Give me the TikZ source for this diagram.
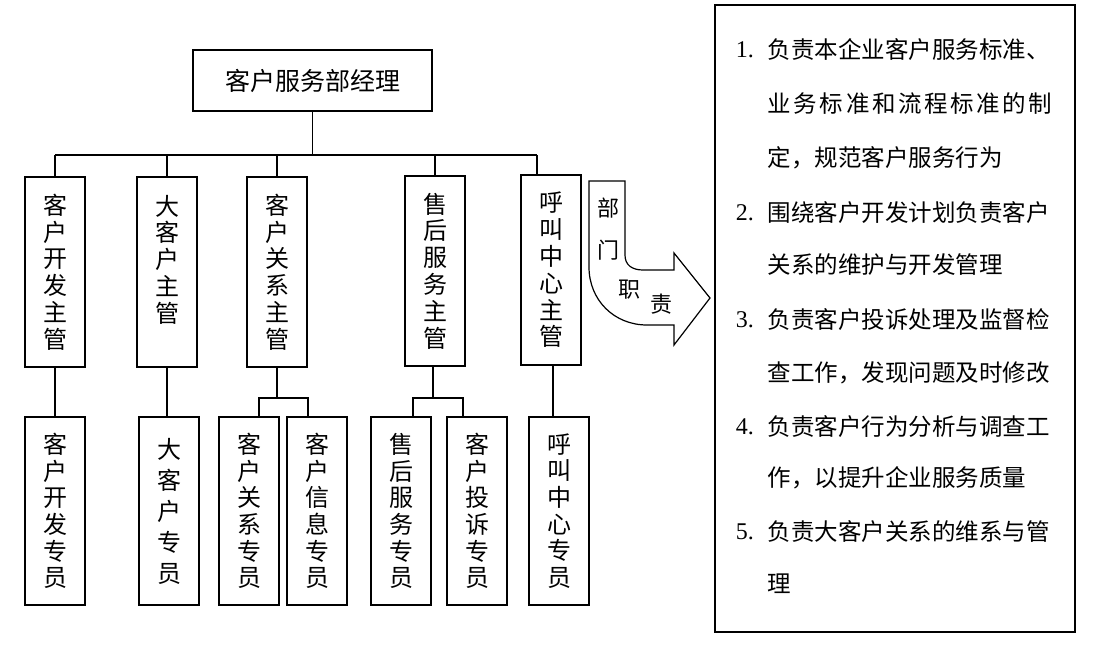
\documentclass[tikz,border=0pt]{standalone}
\usepackage{fontspec}
\setmainfont{Noto Sans CJK SC}
\newfontfamily\numfont{Liberation Serif}
\usetikzlibrary{calc}

\begin{document}
\begin{tikzpicture}[x=1pt,y=-1pt,line width=1.6pt,
    box/.style={draw,inner sep=0pt,align=center},
    zhuguan/.style={box,minimum width=60pt,minimum height=190pt,font=\fontsize{24}{26.8}\selectfont},
    zhuanyuan/.style={box,minimum width=60pt,minimum height=188pt,font=\fontsize{24}{26.6}\selectfont},
    hang/.style={anchor=west,inner sep=0pt,font=\fontsize{23.5}{23.5}\selectfont}]
    \useasboundingbox (0,0) rectangle (1104,646);
    \node[box,minimum width=239pt,minimum height=61pt,font=\fontsize{25}{25}\selectfont] (jingli) at (312.5,80.5) {客户服务部经理};
    % row of managers
    \node[zhuguan] (kfzg) at (55,272) {客\\户\\开\\发\\主\\管};
    \node[zhuguan] (dkzg) at (167,272) {大\\客\\户\\主\\管\\~};
    \node[zhuguan] (gxzg) at (277,272) {客\\户\\关\\系\\主\\管};
    \node[zhuguan] (shzg) at (435,271) {售\\后\\服\\务\\主\\管};
    \node[zhuguan] (hjzg) at (551,270) {呼\\叫\\中\\心\\主\\管};
    % row of staff
    \node[zhuanyuan] (kfzy) at (55,511) {客\\户\\开\\发\\专\\员};
    \node[zhuanyuan,font=\fontsize{24}{31}\selectfont] (dkzy) at (169,511) {大\\客\\户\\专\\员};
    \node[zhuanyuan] (gxzy) at (249,511) {客\\户\\关\\系\\专\\员};
    \node[zhuanyuan] (xxzy) at (317,511) {客\\户\\信\\息\\专\\员};
    \node[zhuanyuan] (shzy) at (401,511) {售\\后\\服\\务\\专\\员};
    \node[zhuanyuan] (tszy) at (477,511) {客\\户\\投\\诉\\专\\员};
    \node[zhuanyuan] (hjzy) at (559,511) {呼\\叫\\中\\心\\专\\员};

    \coordinate (bus) at (312.5,155);
    \draw (jingli.south) -- (bus);
    \draw (kfzg.north |- bus) -- ($(hjzg.north |- bus)+(-14,0)$);
    \foreach \n in {kfzg,dkzg,gxzg,shzg}
        \draw (\n.north) -- (\n.north |- bus);
    \draw ($(hjzg.north)+(-14,0)$) -- ($(hjzg.north |- bus)+(-14,0)$);

    \draw (kfzg.south) -- (kfzg.south |- kfzy.north);
    \draw (dkzg.south) -- (dkzg.south |- dkzy.north);
    \coordinate (gxfork) at ($(gxzg.south)+(0,30)$);
    \draw (gxzg.south) -- (gxfork);
    \draw ($(gxzy.north)+(10,0)$) |- ($(xxzy.north |- gxfork)+(-9,0)$) -- ($(xxzy.north)+(-9,0)$);
    \coordinate (shfork) at ($(shzg.south)+(-2,31)$);
    \draw ($(shzg.south)+(-2,0)$) -- (shfork);
    \draw ($(shzy.north)+(12,0)$) |- ($(tszy.north |- shfork)+(-14,0)$) -- ($(tszy.north)+(-14,0)$);
    \draw ($(hjzg.south)+(2,0)$) -- ($(hjzy.north)+(-6,0)$);

    % bent arrow
    \draw[line width=1.2pt] (589,181) -- (625,181) -- (625,255)
        .. controls (625,265) and (632,270) .. (643,270) -- (674,270) -- (674,253)
        -- (710,298) -- (674,345) -- (674,325) -- (647,325)
        .. controls (614,325) and (589,300) .. (589,267) -- cycle;
    \node[font=\fontsize{22}{22}\selectfont,inner sep=0pt] (bu) at (608,208) {部};
    \node[font=\fontsize{22}{22}\selectfont,inner sep=0pt] (men) at (608,250) {门};
    \node[font=\fontsize{22}{22}\selectfont,inner sep=0pt] (zhi) at (629,290) {职};
    \node[font=\fontsize{22}{22}\selectfont,inner sep=0pt] (ze) at (661,304) {责};

    % duties
    \node[draw,minimum width=360pt,minimum height=627pt,inner sep=0pt] (zhize) at (895,318.5) {};
    \foreach \n/\y in {1/50,2/213,3/320,4/427,5/532}
        \node[hang,font=\numfont\fontsize{24}{24}\selectfont] (xuhao\n) at (735,\y) {\n.};
    \foreach \y/\t [count=\i] in {50/{负责本企业客户服务标准、},
            103.4/{\addfontfeature{LetterSpace=11}业务标准和流程标准的制},
            158/{定，规范客户服务行为},
            213/{围绕客户开发计划负责客户},
            265/{关系的维护与开发管理},
            320/{负责客户投诉处理及监督检},
            373/{查工作，发现问题及时修改},
            427/{负责客户行为分析与调查工},
            478/{作，以提升企业服务质量},
            532/{负责大客户关系的维系与管},
            584/{理}}
        \node[hang] (hang\i) at (767,\y) {\t};
\end{tikzpicture}
\end{document}
